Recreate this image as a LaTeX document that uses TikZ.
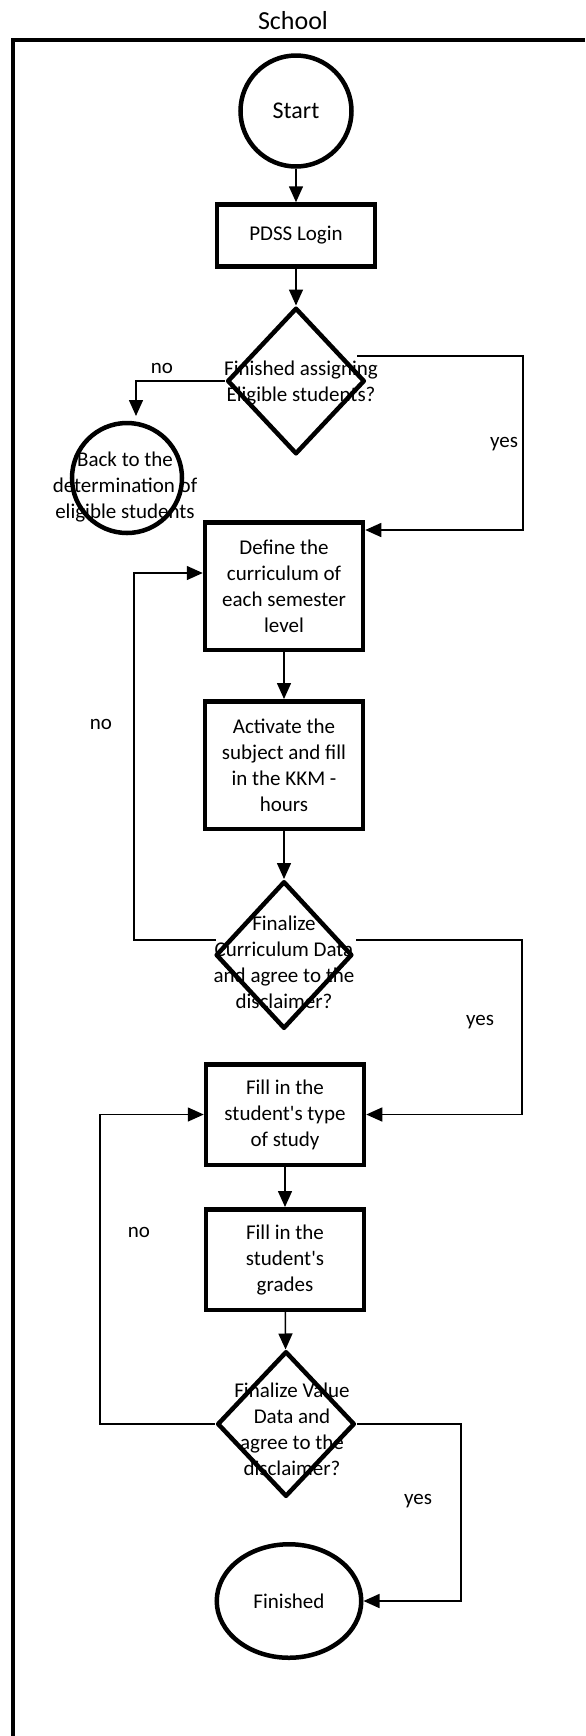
\documentclass[tikz,border=0pt]{standalone}
\usepackage{fontspec}
\setmainfont{Carlito}
\usepackage{tikz}
\usetikzlibrary{arrows.meta}
\usetikzlibrary{shapes.geometric}
\tikzstyle{box}=[rectangle, draw=black, line width=2.25pt, minimum width=79pt, align=center, inner sep=0pt]
\tikzstyle{dec}=[diamond, draw=black, line width=2.25pt, line join=round, inner sep=0pt]
\tikzstyle{txt}=[align=center, inner sep=0pt]
\tikzstyle{flow}=[line width=.75pt, -{Triangle[length=8pt, width=7pt]}]

\begin{document}
\begin{tikzpicture}[x=.5pt, y=-.5pt, font=\fontsize{10.5}{13}\selectfont]
    \useasboundingbox (0,0) rectangle (585,1736);
    \node[font=\fontsize{13}{15}\selectfont] (school) at (293,21) {School};
    \draw[line width=2.25pt] (585,40) -- (13,40) -- (13,1736);

    \node[circle, draw=black, line width=2.25pt, minimum size=55.5pt, font=\fontsize{12}{14}\selectfont] (start) at (296,111) {Start};
    \node[box, minimum height=31pt] (pdss) at (296,235.5) {PDSS Login};
    \node[dec, minimum width=68.75pt, minimum height=73.25pt] (d1) at (296,381) {};
    \node[txt] (d1t) at (301,383.5) {Finished assigning\\Eligible students?};
    \node[circle, draw=black, line width=2.25pt, minimum size=55pt] (back) at (127,478) {};
    \node[txt] (backt) at (125,487) {Back to the\\determination of\\eligible students};

    \node[box, minimum height=63.75pt] (define) at (284,586) {Define the\\curriculum of\\each semester\\level};
    \node[box, minimum height=63.75pt] (activate) at (284,765) {Activate the\\subject and fill\\in the KKM -\\hours};
    \node[dec, minimum width=68.25pt, minimum height=73.75pt] (d2) at (284,955) {};
    \node[txt] (d2t) at (284,962) {Finalize\\Curriculum Data\\and agree to the\\disclaimer?};

    \node[box, minimum height=50.25pt] (fill1) at (285,1114.5) {Fill in the\\student\textquotesingle s type\\of study};
    \node[box, minimum height=50.25pt] (fill2) at (285,1259.5) {Fill in the\\student\textquotesingle s\\grades};
    \node[dec, minimum width=68.75pt, minimum height=72.75pt] (d3) at (286,1424) {};
    \node[txt] (d3t) at (292,1429.5) {Finalize Value\\Data and\\agree to the\\disclaimer?};
    \node[ellipse, draw=black, line width=2.25pt, minimum width=72.25pt, minimum height=56.75pt] (finished) at (289,1601) {Finished};

    \coordinate (backin) at (136,416);
    \coordinate (d1yes) at (357,356);
    \coordinate (d2no) at (216,940);
    \coordinate (d2yes) at (356,940);

    \node (no1) at (162,368) {no};
    \node (yes1) at (504,444) {yes};
    \node (no2) at (101,724) {no};
    \node (yes2) at (480,1022) {yes};
    \node (no3) at (139,1232) {no};
    \node (yes3) at (418,1501) {yes};

    \foreach \from/\to in {start/pdss, pdss/d1, define/activate, activate/d2, fill1/fill2, fill2/d3}
      \draw[flow] (\from) -- (\to);

    \draw[flow] (d1.west) -| (backin);
    \draw[flow] (d1yes) -- ++(166,0) |- ([yshift=28pt]define.east);
    \draw[flow] (d2no) -- ++(-82,0) |- ([yshift=6.5pt]define.west);
    \draw[flow] (d2yes) -- ++(166,0) |- (fill1.east);
    \draw[flow] (d3.west) -- ++(-115,0) |- (fill1.west);
    \draw[flow] (d3.east) -- ++(104,0) |- (finished.east);
  \end{tikzpicture}
\end{document}
